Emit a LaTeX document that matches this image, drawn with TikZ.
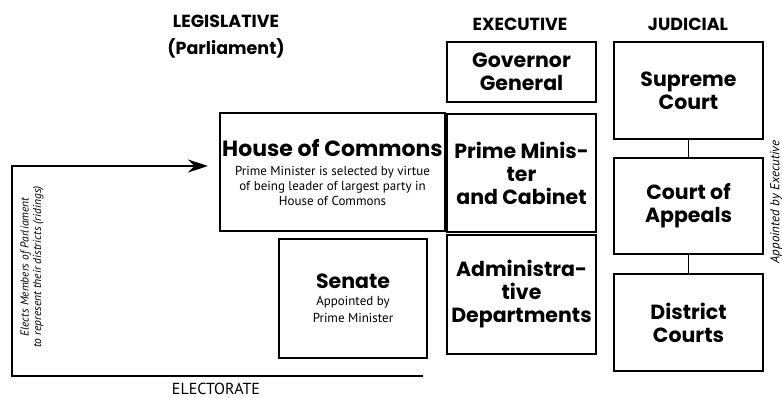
\documentclass[tikz,border=0pt]{standalone}
\usepackage{fontspec}
\setmainfont{PT Sans}
\newfontfamily\headfont{Poppins}
\usepackage{tikz}
\usetikzlibrary{arrows.meta, calc}

\newcommand{\boxtitle}[2]{{\headfont\bfseries\fontsize{#1}{#1}\selectfont #2}}

\begin{document}
\begin{tikzpicture}[x=1pt, y=-1pt, line cap=butt,
	branch/.style={font=\headfont\bfseries\fontsize{17.5}{27}\selectfont, align=center},
	govbox/.style={draw, line width=1.8pt, align=center, inner sep=2pt,
		font=\headfont\bfseries\fontsize{20.5}{23}\selectfont},
	housebox/.style={draw, line width=1.8pt, align=center, inner sep=2pt,
		font=\fontsize{13}{15}\selectfont},
	sidenote/.style={font=\itshape\fontsize{11.5}{12.5}\selectfont, align=center, rotate=90}]

	\useasboundingbox (0,0) rectangle (782,397);

	% column headings
	\node[branch] (leg) at (226,37) {LEGISLATIVE\\(Parliament)};
	\node[branch] (exe) at (520,24) {EXECUTIVE};
	\node[branch] (jud) at (688,24) {JUDICIAL};

	% legislative
	\node[housebox, minimum width=223, minimum height=118] (commons) at (332.5,172)
		{\boxtitle{22}{House of Commons}\\[4pt]
		Prime Minister is selected by virtue\\
		of being leader of largest party in\\
		House of Commons};
	\node[housebox, minimum width=148, minimum height=119] (senate) at (353,298.5)
		{\boxtitle{20.5}{Senate}\\[2pt]
		Appointed by\\[2pt]
		Prime Minister};

	% executive
	\node[govbox, minimum width=149, minimum height=60] (gg) at (521.5,72)
		{Governor\\General};
	\node[govbox, minimum width=149, minimum height=118] (pm) at (521.5,173)
		{Prime Minis-\\ter\\and Cabinet};
	\node[govbox, minimum width=149, minimum height=119] (admin) at (521.5,294.5)
		{Administra-\\tive\\Departments};

	% judicial
	\node[govbox, minimum width=149, minimum height=97] (supreme) at (688.5,90.5)
		{Supreme\\Court};
	\node[govbox, minimum width=149, minimum height=96] (appeals) at (688.5,206)
		{Court of\\Appeals};
	\node[govbox, minimum width=149, minimum height=97] (district) at (688.5,322.5)
		{District\\Courts};

	\draw[line width=1.8pt] (supreme) -- (appeals);
	\draw[line width=1.8pt] (appeals) -- (district);

	\node[sidenote, font=\itshape\fontsize{13}{14}\selectfont] (appointed) at (776,202) {Appointed by Executive};

	% electorate
	\coordinate (E) at (12,376);
	\coordinate (Eend) at (423,376);
	\coordinate (up) at (12,166);
	\coordinate (tip) at (208,166);
	\draw[line width=1.8pt, -{Stealth[length=20pt, width=13pt]}] (Eend) -- (E) -- (up) -- (tip);
	\node[font=\fontsize{16}{18}\selectfont] (elec) at (216,388.5) {ELECTORATE};
	\node[sidenote] (elects) at (32,267) {Elects Members of Parliament\\to represent their districts (ridings)};

\end{tikzpicture}
\end{document}
